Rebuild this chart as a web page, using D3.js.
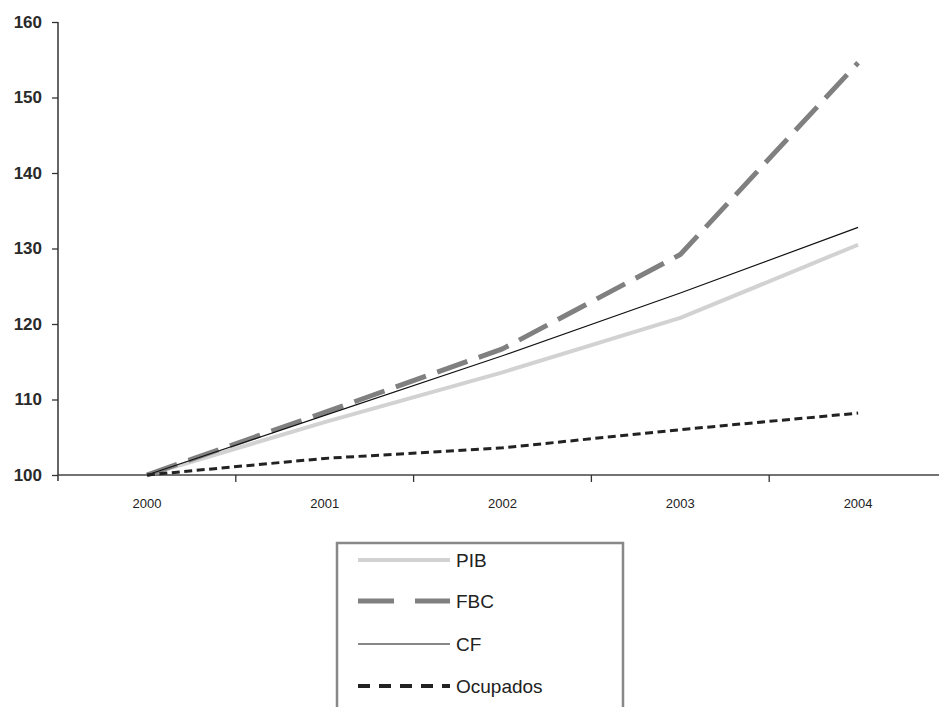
<!DOCTYPE html>
<html>
<head>
<meta charset="utf-8">
<script src="https://cdn.jsdelivr.net/npm/d3@7"></script>
<style>
body { margin: 0; background: #fff; }
text { font-family: "Liberation Sans", Arial, Helvetica, sans-serif; }
</style>
</head>
<body>
<script>
var years = ["2000", "2001", "2002", "2003", "2004"];
var pib = [100, 107.0, 113.6, 120.8, 130.5];
var fbc = [100, 108.3, 116.7, 129.2, 154.6];
var cf = [100, 107.9, 115.8, 124.1, 132.8];
var ocupados = [100, 102.2, 103.6, 106.0, 108.2];
var yTicks = [100, 110, 120, 130, 140, 150, 160];

var series = [
	{ name: "PIB", values: pib, color: "#d2d2d2", width: 4, dash: null, legendDash: null },
	{ name: "FBC", values: fbc, color: "#808080", width: 5, dash: "32,12", legendDash: "36,21" },
	{ name: "CF", values: cf, color: "#111", width: 1.2, dash: null, legendDash: null },
	{ name: "Ocupados", values: ocupados, color: "#222", width: 3, dash: "8,4.5", legendDash: "12,9" }
];

var svg = d3.select("body")
	.append("svg")
	.attr("width", 939)
	.attr("height", 707);

var plotLeft = 58, plotRight = 947, plotTop = 22, plotBottom = 475;

var x = d3.scaleBand()
	.domain(years)
	.range([plotLeft, plotRight]);

var y = d3.scaleLinear()
	.domain([100, 160])
	.range([plotBottom, plotTop]);

// y axis
var yAxis = svg.append("g")
	.attr("transform", "translate(" + plotLeft + ",0)")
	.call(d3.axisLeft(y).tickValues(yTicks).tickSize(6).tickPadding(10));
yAxis.select(".domain").remove();
yAxis.append("line")
	.attr("x1", 0).attr("x2", 0)
	.attr("y1", plotTop).attr("y2", plotBottom + 6)
	.attr("stroke", "#333").attr("stroke-width", 1.5);
yAxis.selectAll(".tick line").attr("stroke", "#333").attr("stroke-width", 1.3);
yAxis.selectAll(".tick text")
	.attr("font-size", "17px")
	.attr("font-weight", "bold")
	.attr("fill", "#2a2a2a");

// x axis: ticks between categories
var xAxis = svg.append("g");
xAxis.append("line")
	.attr("x1", plotLeft).attr("x2", plotRight)
	.attr("y1", plotBottom).attr("y2", plotBottom)
	.attr("stroke", "#444").attr("stroke-width", 1.5);
xAxis.selectAll("line.tk")
	.data(years.slice(1))
	.enter().append("line")
	.attr("class", "tk")
	.attr("x1", function(d) { return x(d); })
	.attr("x2", function(d) { return x(d); })
	.attr("y1", plotBottom).attr("y2", plotBottom + 7)
	.attr("stroke", "#333").attr("stroke-width", 1.3);
xAxis.selectAll("text")
	.data(years)
	.enter().append("text")
	.attr("x", function(d) { return x(d) + x.bandwidth() / 2; })
	.attr("y", plotBottom + 33)
	.attr("text-anchor", "middle")
	.attr("font-size", "13px")
	.attr("fill", "#222")
	.text(function(d) { return d; });

var line = d3.line()
	.x(function(d, i) { return x(years[i]) + x.bandwidth() / 2; })
	.y(function(d) { return y(d); });

series.forEach(function(s) {
	svg.append("path")
		.attr("d", line(s.values))
		.attr("fill", "none")
		.attr("stroke", s.color)
		.attr("stroke-width", s.width)
		.attr("stroke-dasharray", s.dash)
		.attr("stroke-linejoin", "round");
});

// legend
var legend = svg.append("g");
legend.append("rect")
	.attr("x", 337).attr("y", 543)
	.attr("width", 286).attr("height", 200)
	.attr("fill", "#fff")
	.attr("stroke", "#888")
	.attr("stroke-width", 2.5);

var legendY = [560, 601, 644, 686];
series.forEach(function(s, i) {
	legend.append("line")
		.attr("x1", 358).attr("x2", 450)
		.attr("y1", legendY[i]).attr("y2", legendY[i])
		.attr("stroke", s.color)
		.attr("stroke-width", s.name === "Ocupados" ? 4 : s.width)
		.attr("stroke-dasharray", s.legendDash);
	legend.append("text")
		.attr("x", 456)
		.attr("y", legendY[i] + 7)
		.attr("font-size", "19px")
		.attr("fill", "#222")
		.text(s.name);
});
</script>
</body>
</html>
